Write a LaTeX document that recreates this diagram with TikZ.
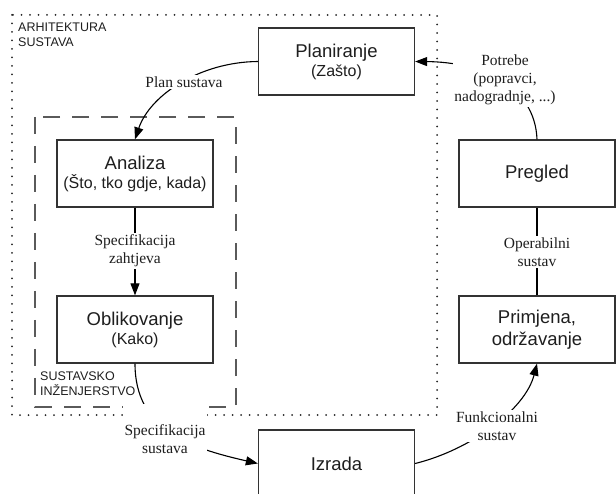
\documentclass[tikz,border=0pt]{standalone}
\usepackage{fontspec}
\setmainfont{Liberation Serif}
\setsansfont{Liberation Sans}
\usetikzlibrary{arrows.meta}

\definecolor{inkline}{HTML}{333333}
\definecolor{inktext}{HTML}{1E1E1E}
\definecolor{frameline}{HTML}{5A5A5A}

\newcommand{\subfont}{\fontsize{16}{18}\selectfont}

\tikzset{
  stage/.style={draw=inkline, line width=1.3pt, fill=white, text=inktext,
    minimum width=156pt, minimum height=67pt, inner sep=0pt, align=center,
    font=\sffamily\fontsize{18.5}{19}\selectfont},
  note/.style={fill=white, text=inktext, inner sep=1.5pt, align=center,
    font=\rmfamily\fontsize{15.5}{18}\selectfont},
  flow/.style={draw=black, line width=1.1pt,
    -{Triangle[length=12pt,width=9pt]}},
  link/.style={draw=black, line width=1.1pt},
  archframe/.style={draw=black!85, line width=2pt, line cap=round,
    dash pattern=on 0pt off 8.5pt},
  engframe/.style={draw=frameline, line width=2pt,
    dash pattern=on 17pt off 12pt},
  frametitle/.style={inner sep=0pt, align=left, text=inktext,
    font=\sffamily\fontsize{12.5}{14.8}\selectfont}
}

\begin{document}
\begin{tikzpicture}[x=1pt,y=-1pt]
\useasboundingbox (0,0) rectangle (616,494);

% grouping frames
\draw[archframe] (12,15) rectangle (437,415);
\draw[engframe] (35,117) rectangle (236,407);
\node[frametitle, anchor=north west] (archtitle) at (18,23) {ARHITEKTURA\\SUSTAVA};
\node[frametitle, anchor=north west] (engtitle) at (40,371.5) {SUSTAVSKO\\INŽENJERSTVO};

% life-cycle stages
\node[stage] (plan) at (336.5,61.5) {Planiranje\\{\subfont (Zašto)}};
\node[stage] (analiza) at (135,173.5) {Analiza\\{\subfont (Što, tko gdje, kada)}};
\node[stage] (oblik) at (135,329.5) {Oblikovanje\\{\subfont (Kako)}};
\node[stage] (pregled) at (537,173.5) {Pregled};
\node[stage, font=\sffamily\fontsize{18.5}{22}\selectfont] (primjena) at (537,329.5) {Primjena,\\održavanje};
\node[stage] (izrada) at (336.5,463.5) {Izrada};

% connectors
\draw[flow] (plan.west) .. controls (200,62) and (150,95) .. (analiza.north);
\draw[flow] (analiza.south) -- (oblik.north);
\draw[flow] (oblik.south) .. controls (135,430) and (190,448) .. (izrada.west);
\draw[flow] (izrada.east) .. controls (470,450) and (525,410) .. (primjena.south);
\draw[link] (primjena.north) -- (pregled.south);
\draw[flow] (pregled.north) .. controls (535,85) and (480,62) .. (plan.east);

% connector labels
\node[note] (plannote) at (184,82) {Plan sustava};
\node[note] (reqnote) at (135,251) {Specifikacija\\zahtjeva};
\node[note, inner ysep=20pt] (specnote) at (165,439) {Specifikacija\\sustava};
\node[note] (funcnote) at (497,426) {Funkcionalni\\sustav};
\node[note] (opnote) at (537,252) {Operabilni\\sustav};
\node[note] (neednote) at (505,80) {Potrebe\\(popravci,\\nadogradnje, ...)};
\end{tikzpicture}
\end{document}
